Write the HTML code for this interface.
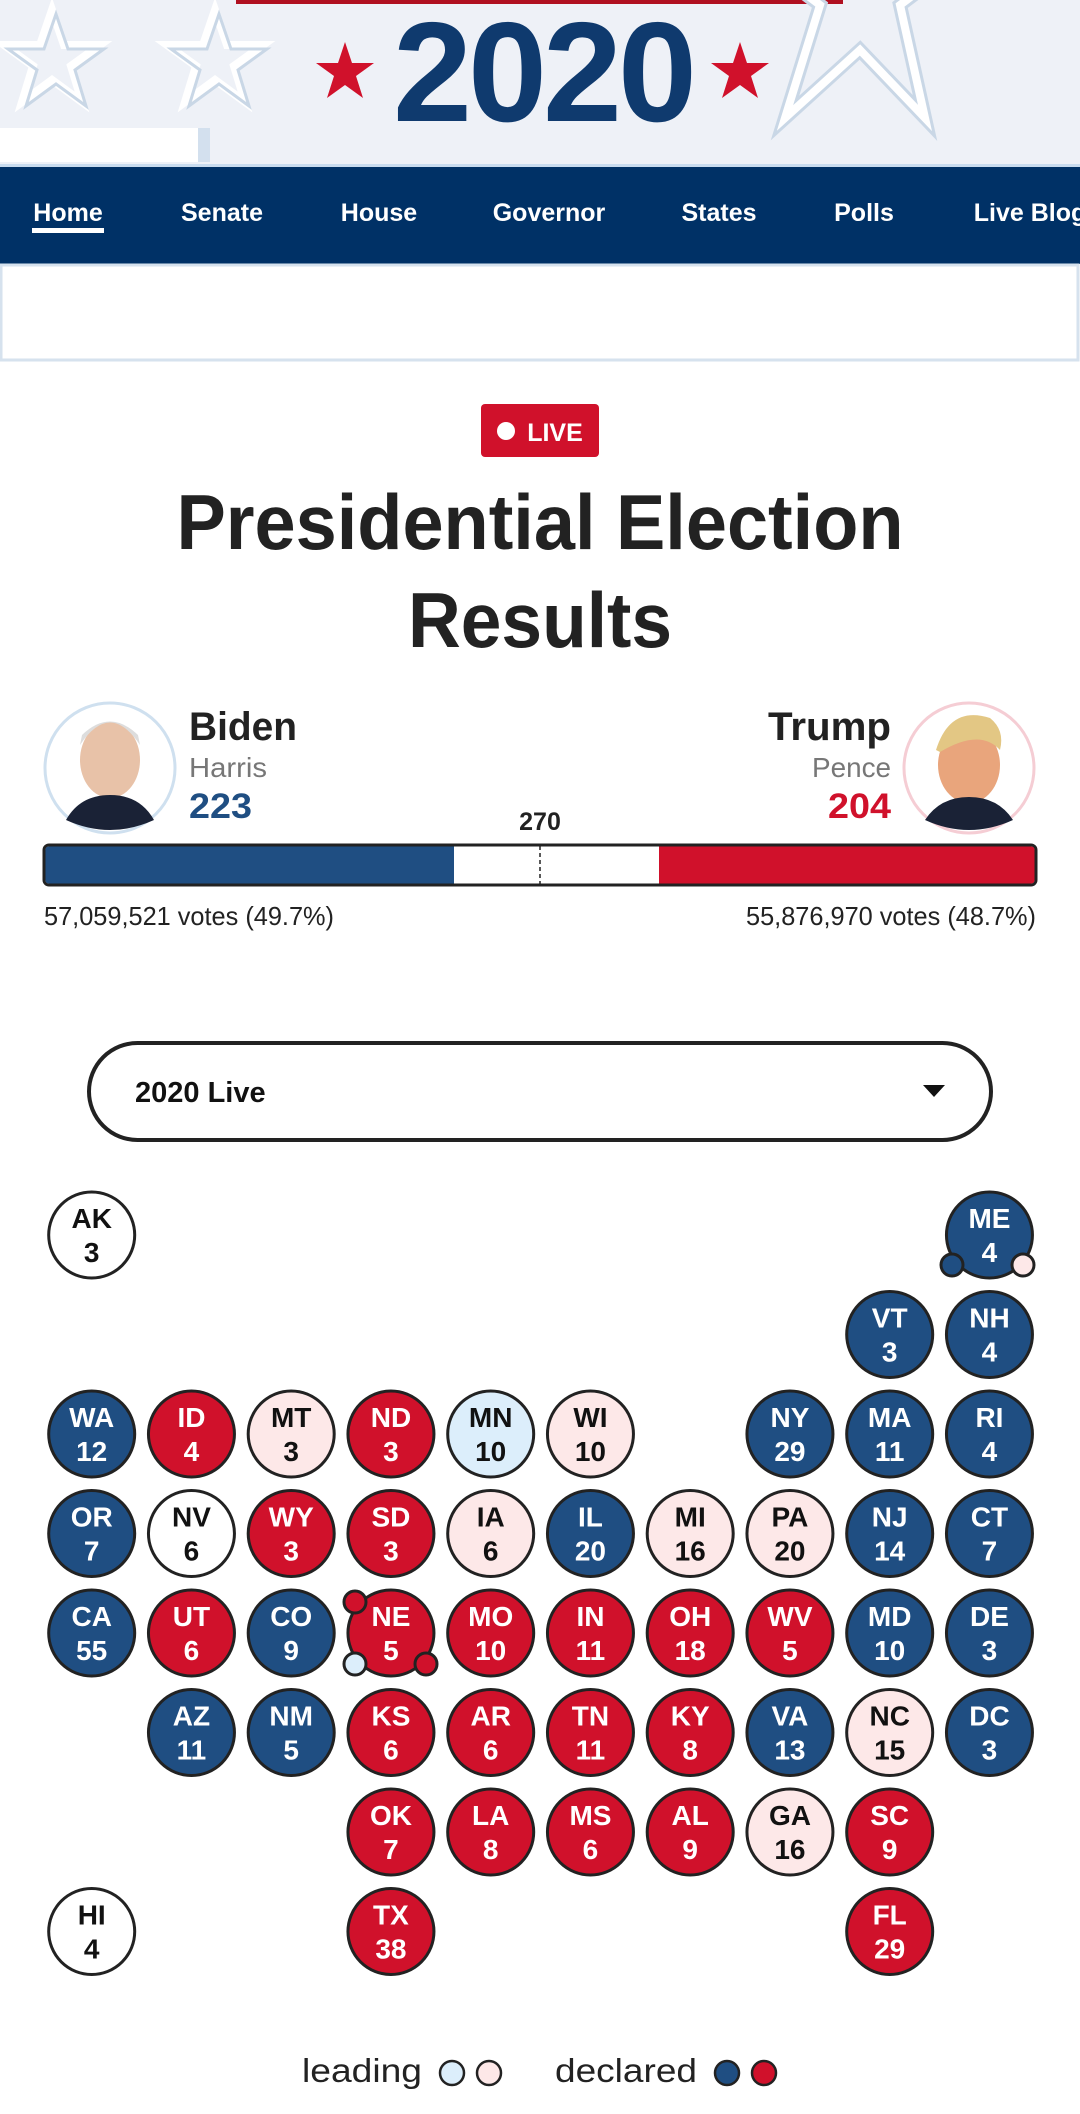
<!DOCTYPE html>
<html><head><meta charset="utf-8"><style>
html,body{margin:0;padding:0;background:#fff;}
svg{display:block;}
text{font-family:"Liberation Sans",sans-serif;}
</style></head><body>
<svg width="1080" height="2114" viewBox="0 0 1080 2114" xmlns="http://www.w3.org/2000/svg">
<defs>
<g id="ostar"><polygon points="0,-50 12,-15 48,-15 19,6 30,42 0,20 -30,42 -19,6 -48,-15 -12,-15" fill="none" stroke="#fff" stroke-width="8"/><polygon points="4,-46 16,-11 52,-11 23,10 34,46 4,24 -26,46 -15,10 -44,-11 -8,-11" fill="none" stroke="#c9d7e6" stroke-width="3"/></g>
<polygon id="rstar" points="0,-30 7,-9 29,-9 11,4 18,26 0,13 -18,26 -11,4 -29,-9 -7,-9" fill="#d0112b"/>
</defs>
<rect x="0" y="0" width="1080" height="166" fill="#eef1f7"/>
<rect x="236" y="0" width="607" height="4" fill="#b01020"/>
<use href="#ostar" x="52" y="60"/>
<use href="#ostar" x="215" y="60"/>
<polygon points="860,-110 885,-40 960,-40 900,5 925,118 860,50 785,118 820,5 760,-40 835,-40" fill="none" stroke="#c9d7e6" stroke-width="14"/>
<polygon points="860,-110 885,-40 960,-40 900,5 925,118 860,50 785,118 820,5 760,-40 835,-40" fill="none" stroke="#fff" stroke-width="8"/>
<rect x="0" y="128" width="198" height="34" fill="#fff"/>
<rect x="198" y="128" width="12" height="34" fill="#d3e0ee"/>
<use href="#rstar" x="345" y="72"/>
<use href="#rstar" x="740" y="72"/>
<text x="543" y="121" text-anchor="middle" font-size="142" font-weight="bold" fill="#0f3a6e" letter-spacing="-4">2020</text>
<rect x="0" y="164" width="1080" height="3" fill="#c9dcef"/>
<rect x="0" y="167" width="1080" height="97" fill="#003166"/>
<g font-size="25" font-weight="bold" fill="#fff" text-anchor="middle">
<text x="68" y="221">Home</text><text x="222" y="221">Senate</text><text x="379" y="221">House</text><text x="549" y="221">Governor</text><text x="719" y="221">States</text><text x="864" y="221">Polls</text><text x="1030" y="221">Live Blog</text>
</g>
<rect x="32" y="228" width="72" height="5" fill="#fff"/>
<rect x="1" y="265" width="1077" height="95" fill="#fff" stroke="#d6e2ee" stroke-width="3"/>
<rect x="481" y="404" width="118" height="53" rx="4" fill="#d0112b"/>
<circle cx="506" cy="431" r="9" fill="#fff"/>
<text x="555" y="441" text-anchor="middle" font-size="25" font-weight="bold" fill="#fff">LIVE</text>
<text x="540" y="549" text-anchor="middle" font-size="78" font-weight="bold" fill="#222" textLength="727" lengthAdjust="spacingAndGlyphs">Presidential Election</text>
<text x="540" y="647" text-anchor="middle" font-size="78" font-weight="bold" fill="#222" textLength="264" lengthAdjust="spacingAndGlyphs">Results</text>
<circle cx="110" cy="768" r="65" fill="#fff" stroke="#cfe0ef" stroke-width="3"/>
<ellipse cx="110" cy="760" rx="30" ry="38" fill="#e8c2a8"/>
<path d="M80,745 Q110,700 140,745 L138,735 Q110,708 82,735Z" fill="#ddd"/>
<path d="M66,820 Q80,795 110,795 Q140,795 154,820 Q110,840 66,820Z" fill="#1a2236"/>
<circle cx="969" cy="768" r="65" fill="#fff" stroke="#f5cdd4" stroke-width="3"/>
<ellipse cx="969" cy="765" rx="31" ry="38" fill="#e9a57c"/>
<path d="M936,750 Q950,705 990,718 Q1005,730 1000,750 Q980,728 940,752Z" fill="#e3c784"/>
<path d="M925,820 Q940,797 969,797 Q998,797 1013,820 Q969,840 925,820Z" fill="#1a2236"/>
<text x="189" y="740" font-size="40" font-weight="bold" fill="#222" textLength="108" lengthAdjust="spacingAndGlyphs">Biden</text>
<text x="189" y="777" font-size="28" fill="#777" textLength="78" lengthAdjust="spacingAndGlyphs">Harris</text>
<text x="189" y="818" font-size="35" font-weight="bold" fill="#1f4e82" textLength="63" lengthAdjust="spacingAndGlyphs">223</text>
<text x="891" y="740" text-anchor="end" font-size="40" font-weight="bold" fill="#222" textLength="123" lengthAdjust="spacingAndGlyphs">Trump</text>
<text x="891" y="777" text-anchor="end" font-size="28" fill="#777" textLength="79" lengthAdjust="spacingAndGlyphs">Pence</text>
<text x="891" y="818" text-anchor="end" font-size="35" font-weight="bold" fill="#d0112b" textLength="63" lengthAdjust="spacingAndGlyphs">204</text>
<text x="540" y="830" text-anchor="middle" font-size="25" font-weight="bold" fill="#222">270</text>
<rect x="44" y="845" width="992" height="40" rx="5" fill="#fff" stroke="#222" stroke-width="3"/>
<path d="M49,846.5 H454 V883.5 H49 Q45.5,883.5 45.5,880 V850 Q45.5,846.5 49,846.5Z" fill="#1f4e82"/>
<path d="M659,846.5 H1031 Q1034.5,846.5 1034.5,850 V880 Q1034.5,883.5 1031,883.5 H659Z" fill="#d0112b"/>
<line x1="540" y1="846" x2="540" y2="885" stroke="#222" stroke-width="1.5" stroke-dasharray="4,3"/>
<text x="44" y="925" font-size="26" fill="#222" textLength="290" lengthAdjust="spacingAndGlyphs">57,059,521 votes (49.7%)</text>
<text x="1036" y="925" text-anchor="end" font-size="26" fill="#222" textLength="290" lengthAdjust="spacingAndGlyphs">55,876,970 votes (48.7%)</text>
<rect x="89" y="1043" width="902" height="97" rx="48.5" fill="#fff" stroke="#222" stroke-width="4"/>
<text x="135" y="1102" font-size="29" font-weight="bold" fill="#111">2020 Live</text>
<polygon points="923,1085 945,1085 934,1097" fill="#111"/>
<g id="grid" stroke="#222" stroke-width="3" font-size="28" font-weight="bold" text-anchor="middle"></g>
<text x="302" y="2082" font-size="33" fill="#222" textLength="120" lengthAdjust="spacingAndGlyphs">leading</text>
<circle cx="452" cy="2073" r="12" fill="#dceefb" stroke="#222" stroke-width="2.5"/>
<circle cx="489" cy="2073" r="12" fill="#fde8e8" stroke="#222" stroke-width="2.5"/>
<text x="555" y="2082" font-size="33" fill="#222" textLength="142" lengthAdjust="spacingAndGlyphs">declared</text>
<circle cx="727" cy="2073" r="12" fill="#1f4e82" stroke="#222" stroke-width="2.5"/>
<circle cx="764" cy="2073" r="12" fill="#d0112b" stroke="#222" stroke-width="2.5"/>
</svg>
<script>
var B='#1f4e82',R='#d0112b',P='#fde8e8',L='#dceefb',W='#fff';
var s=[['AK',3,0,0,W],['ME',4,9,0,B],['VT',3,8,1,B],['NH',4,9,1,B],
['WA',12,0,2,B],['ID',4,1,2,R],['MT',3,2,2,P],['ND',3,3,2,R],['MN',10,4,2,L],['WI',10,5,2,P],['NY',29,7,2,B],['MA',11,8,2,B],['RI',4,9,2,B],
['OR',7,0,3,B],['NV',6,1,3,W],['WY',3,2,3,R],['SD',3,3,3,R],['IA',6,4,3,P],['IL',20,5,3,B],['MI',16,6,3,P],['PA',20,7,3,P],['NJ',14,8,3,B],['CT',7,9,3,B],
['CA',55,0,4,B],['UT',6,1,4,R],['CO',9,2,4,B],['NE',5,3,4,R],['MO',10,4,4,R],['IN',11,5,4,R],['OH',18,6,4,R],['WV',5,7,4,R],['MD',10,8,4,B],['DE',3,9,4,B],
['AZ',11,1,5,B],['NM',5,2,5,B],['KS',6,3,5,R],['AR',6,4,5,R],['TN',11,5,5,R],['KY',8,6,5,R],['VA',13,7,5,B],['NC',15,8,5,P],['DC',3,9,5,B],
['OK',7,3,6,R],['LA',8,4,6,R],['MS',6,5,6,R],['AL',9,6,6,R],['GA',16,7,6,P],['SC',9,8,6,R],
['HI',4,0,7,W],['TX',38,3,7,R],['FL',29,8,7,R]];
var g=document.getElementById('grid'),h='';
function c(x,y,r,f){return '<circle cx="'+x+'" cy="'+y+'" r="'+r+'" fill="'+f+'"/>';}
s.forEach(function(a){var x=91.7+a[2]*99.75,y=1235+a[3]*99.5;
h+=c(x,y,43,a[4]);
if(a[0]=='ME'){h+=c(952,1265,11,B)+c(1023,1265,11,P);}
if(a[0]=='NE'){h+=c(355,1602,11,R)+c(355,1664,11,L)+c(426,1664,11,R);}
var t=(a[4]==B||a[4]==R)?'#fff':'#111';
h+='<text x="'+x+'" y="'+(y-7)+'" fill="'+t+'" stroke="none">'+a[0]+'</text><text x="'+x+'" y="'+(y+27)+'" fill="'+t+'" stroke="none">'+a[1]+'</text>';});
g.innerHTML=h;
</script>
</body></html>
